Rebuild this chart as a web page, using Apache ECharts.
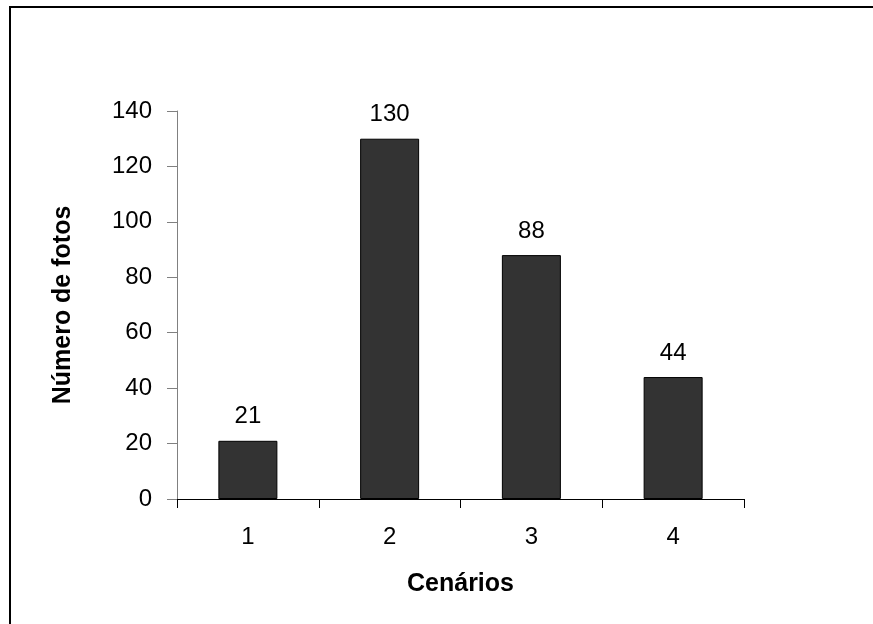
<!DOCTYPE html>
<html>
<head>
<meta charset="utf-8">
<script src="https://cdn.jsdelivr.net/npm/echarts@6/dist/echarts.min.js"></script>
<style>
    html, body { margin: 0; padding: 0; background: #fff; }
    #chart { width: 873px; height: 624px; }
</style>
</head>
<body>
<div id="chart"></div>
<script>
const categories = ['1', '2', '3', '4'];
const fotos = [21, 130, 88, 44];
const yTicks = {min: 0, max: 140, interval: 20};

const chart = echarts.init(document.getElementById('chart'));
const font = '"Liberation Sans", Arial, sans-serif';

chart.setOption({
    animation: false,
    grid: {left: 177, right: 129, top: 111, bottom: 125},
    graphic: [{
        type: 'polyline',
        shape: {points: [[10, 624], [10, 7], [873, 7]]},
        style: {stroke: '#000', lineWidth: 2, fill: null}
    }],
    xAxis: {
        type: 'category',
        data: categories,
        name: 'Cenários',
        nameLocation: 'middle',
        nameGap: 73,
        nameTextStyle: {fontFamily: font, fontSize: 25, fontWeight: 'bold', color: '#000'},
        axisLine: {lineStyle: {color: '#000', width: 1}},
        axisTick: {show: true, length: 9, lineStyle: {color: '#000'}},
        axisLabel: {fontFamily: font, fontSize: 24, color: '#000', margin: 26}
    },
    yAxis: {
        type: 'value',
        min: yTicks.min,
        max: yTicks.max,
        interval: yTicks.interval,
        name: 'Número de fotos',
        nameLocation: 'middle',
        nameRotate: 90,
        nameGap: 101,
        nameTextStyle: {fontFamily: font, fontSize: 25, fontWeight: 'bold', color: '#000'},
        splitLine: {show: false},
        axisLine: {show: true, lineStyle: {color: '#808080', width: 1}},
        axisTick: {show: true, length: 10, lineStyle: {color: '#808080'}},
        axisLabel: {fontFamily: font, fontSize: 24, color: '#000', margin: 25}
    },
    series: [{
        type: 'bar',
        data: fotos,
        barWidth: 59,
        itemStyle: {color: '#333333', borderColor: '#000', borderWidth: 1},
        label: {
            show: true,
            position: 'top',
            distance: 12,
            fontFamily: font,
            fontSize: 24,
            color: '#000'
        }
    }]
});
</script>
</body>
</html>
